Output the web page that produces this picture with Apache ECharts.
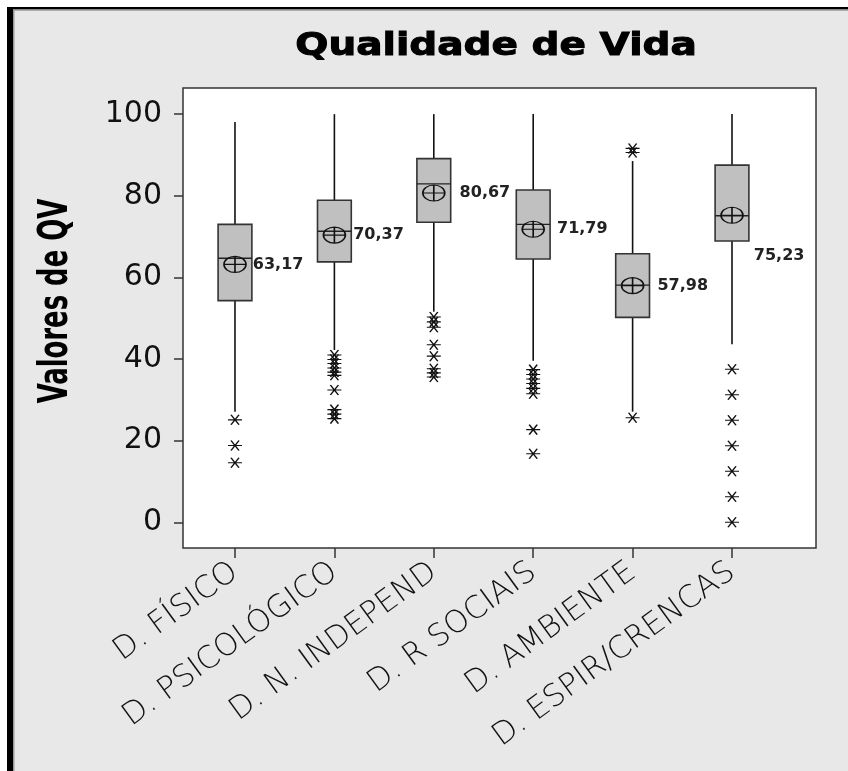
<!DOCTYPE html>
<html>
<head>
<meta charset="utf-8">
<script src="https://cdn.jsdelivr.net/npm/echarts@6/dist/echarts.min.js"></script>
<style>html,body{margin:0;padding:0;background:#fff}#c{width:848px;height:771px}</style>
</head>
<body>
<div id="c"></div>
<script>
// ---- data ----
const categories = ['D. FÍSICO', 'D. PSICOLÓGICO', 'D. N. INDEPEND', 'D. R SOCIAIS', 'D. AMBIENTE', 'D. ESPIR/CRENCAS'];
const whiskerLow  = [27.1, 42.2, 51.6, 39.6, 27.1, 43.6];
const q1Values    = [54.3, 63.8, 73.5, 64.5, 50.2, 68.9];
const medianValues= [64.7, 71.3, 82.9, 73.0, 58.1, 75.1];
const q3Values    = [73.0, 78.9, 89.1, 81.4, 65.8, 87.5];
const whiskerHigh = [98.1, 100, 100, 100, 88.5, 100];
const meanValues  = [63.17, 70.37, 80.67, 71.79, 57.98, 75.23];
const outliers = [
  [25.1, 18.8, 14.6],
  [41.0, 39.9, 38.9, 37.8, 36.8, 36.0, 32.4, 27.6, 26.5, 25.4],
  [50.3, 49.1, 47.8, 43.5, 40.7, 37.6, 36.6, 35.6],
  [37.4, 36.2, 35.1, 34.0, 32.8, 31.5, 22.7, 16.8],
  [91.6, 90.6, 25.6],
  [37.5, 31.25, 25, 18.75, 12.5, 6.25, 0]
];
const yTicks = [0, 20, 40, 60, 80, 100];
const titleText = 'Qualidade de Vida';
const yName = 'Valores de QV';

// ---- layout / style (not data) ----
const meanLabelShift = [[0, 0], [1, 0], [8, 0], [6, 0], [7, 0], [4, 41]];
const xPositions = categories.map((c, i) => i + 1);

const boxData = categories.map((c, i) => [xPositions[i], whiskerLow[i], q1Values[i], medianValues[i], q3Values[i], whiskerHigh[i]]);
const outlierData = [];
outliers.forEach((arr, i) => arr.forEach(v => outlierData.push([xPositions[i], v])));
const meanData = meanValues.map((m, i) => ({
  value: [xPositions[i], m],
  label: { offset: meanLabelShift[i] }
}));

const chart = echarts.init(document.getElementById('c'), null, { renderer: 'canvas' });
const option = {
  backgroundColor: '#e8e8e8',
  animation: false,
  graphic: [
    { type: 'rect', shape: { x: 0, y: 0, width: 848, height: 7 }, style: { fill: '#fff' } },
    { type: 'rect', shape: { x: 0, y: 0, width: 7, height: 771 }, style: { fill: '#fff' } },
    { type: 'rect', shape: { x: 7, y: 7, width: 841, height: 2.5 }, style: { fill: '#000' } },
    { type: 'rect', shape: { x: 7, y: 7, width: 6, height: 764 }, style: { fill: '#000' } },
    { type: 'rect', shape: { x: 13, y: 9.5, width: 1.5, height: 762 }, style: { fill: '#999' } },
    { type: 'rect', shape: { x: 13, y: 9.5, width: 835, height: 1.2 }, style: { fill: '#999' } },
    {
      type: 'text', x: 496, y: 47, scaleX: 1.22,
      style: {
        text: titleText, x: 0, y: 0, align: 'center', verticalAlign: 'middle',
        textAlign: 'center', textVerticalAlign: 'middle',
        font: 'bold 32px "DejaVu Sans"', fill: '#000', stroke: '#000', lineWidth: 1
      }
    },
    {
      type: 'text', x: 57, y: 301, rotation: Math.PI / 2, scaleX: 0.72,
      style: {
        text: yName, x: 0, y: 0, align: 'center', verticalAlign: 'middle',
        textAlign: 'center', textVerticalAlign: 'middle',
        font: 'bold 40px "DejaVu Sans Condensed", "DejaVu Sans", sans-serif', fill: '#000'
      }
    }
  ],
  grid: {
    left: 183, right: 32, top: 88, bottom: 223,
    show: true, backgroundColor: '#fff', borderColor: '#333', borderWidth: 1.5
  },
  xAxis: {
    type: 'value', min: 0.477, max: 6.845,
    axisLine: { show: false, onZero: false },
    splitLine: { show: false },
    axisTick: { show: true, customValues: xPositions, length: 10, inside: false, lineStyle: { color: '#333', width: 1.5 } },
    axisLabel: {
      customValues: xPositions, rotate: 36, margin: 21,
      formatter: v => categories[Math.round(v) - 1] || '',
      fontFamily: '"DejaVu Sans"', fontWeight: 200, fontSize: 31, color: '#111'
    }
  },
  yAxis: {
    type: 'value', min: -6.3, max: 106.4,
    axisLine: { show: false, onZero: false },
    splitLine: { show: false },
    axisTick: { show: true, customValues: yTicks, length: 9, lineStyle: { color: '#333', width: 1.5 } },
    axisLabel: { customValues: yTicks, margin: 21, fontFamily: '"DejaVu Sans"', fontSize: 30, color: '#111' }
  },
  series: [
    {
      type: 'custom',
      data: boxData,
      encode: { x: 0, y: [1, 2, 3, 4, 5] },
      renderItem: function (params, api) {
        const x = api.value(0);
        const pLow = api.coord([x, api.value(1)]);
        const pQ1 = api.coord([x, api.value(2)]);
        const pMed = api.coord([x, api.value(3)]);
        const pQ3 = api.coord([x, api.value(4)]);
        const pHigh = api.coord([x, api.value(5)]);
        const half = api.size([0.17, 0])[0];
        return {
          type: 'group',
          children: [
            { type: 'line', shape: { x1: pLow[0], y1: pLow[1], x2: pHigh[0], y2: pHigh[1] }, style: { stroke: '#111', lineWidth: 1.6 } },
            { type: 'rect', shape: { x: pQ3[0] - half, y: pQ3[1], width: half * 2, height: pQ1[1] - pQ3[1] }, style: { fill: '#c0c0c0', stroke: '#333', lineWidth: 1.6 } },
            { type: 'line', shape: { x1: pMed[0] - half, y1: pMed[1], x2: pMed[0] + half, y2: pMed[1] }, style: { stroke: '#222', lineWidth: 1.4 } }
          ]
        };
      },
      z: 2
    },
    {
      type: 'scatter',
      data: outlierData,
      symbol: 'path://M0,5 L14,5 M3,0 L11,10 M3,10 L11,0',
      symbolSize: [14, 10],
      itemStyle: { color: 'rgba(0,0,0,0)', borderColor: '#111', borderWidth: 1.3, opacity: 1 },
      z: 3
    },
    {
      type: 'scatter',
      data: meanData,
      symbol: 'path://M0,-10 A10,10 0 1,1 0,10 A10,10 0 1,1 0,-10 Z M-10,0 L10,0 M0,-10 L0,10',
      symbolSize: [22, 16],
      itemStyle: { color: 'rgba(0,0,0,0)', borderColor: '#111', borderWidth: 1.4, opacity: 1 },
      label: {
        show: true, position: 'right', distance: 6,
        formatter: p => p.value[1].toFixed(2).replace('.', ','),
        fontFamily: '"DejaVu Sans"', fontWeight: 'bold', fontSize: 16, color: '#222'
      },
      z: 4
    }
  ]
};
chart.setOption(option);
</script>
</body>
</html>
